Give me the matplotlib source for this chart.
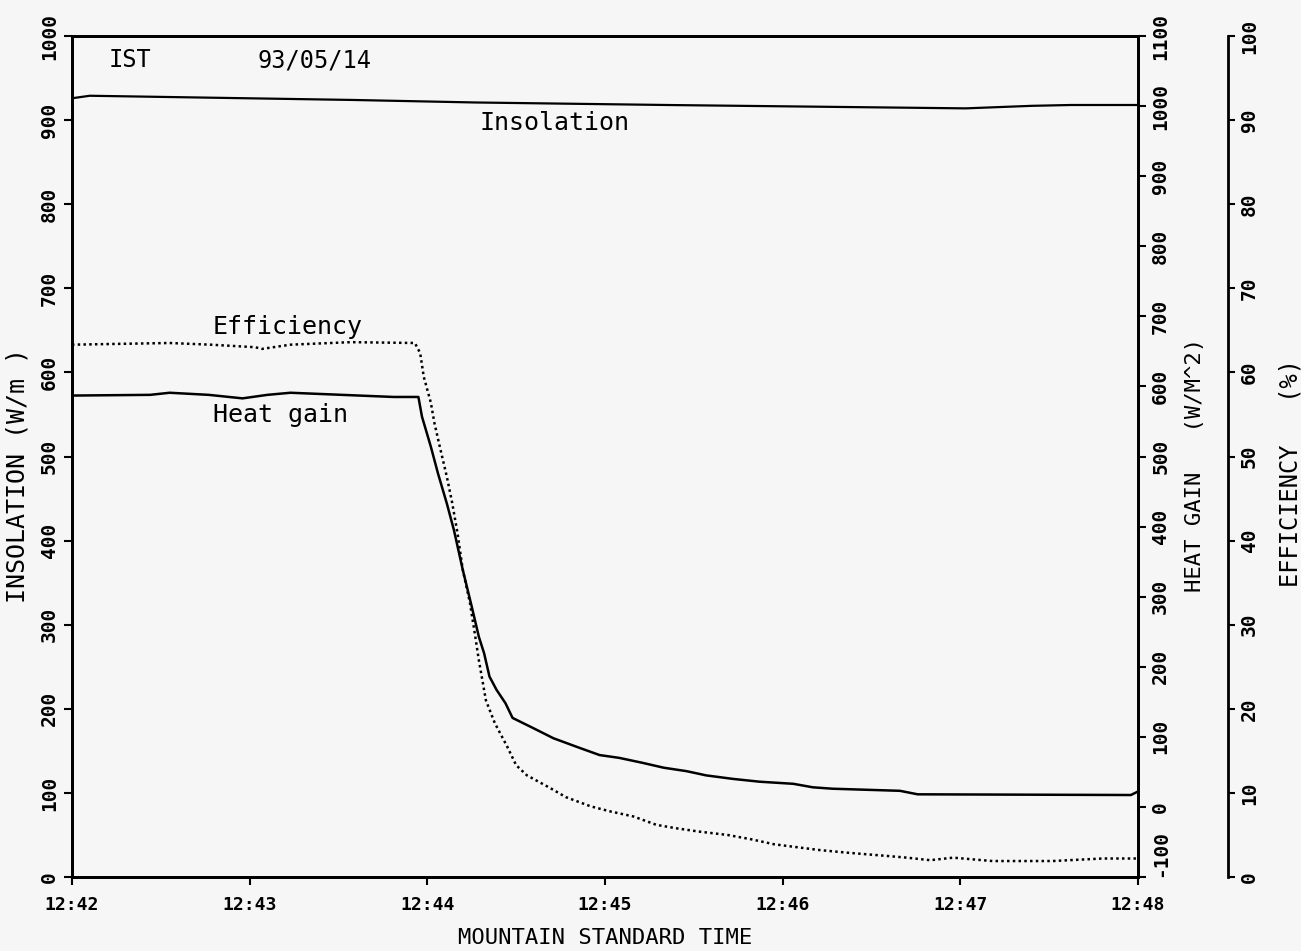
import matplotlib.pyplot as plt

plt.rcParams['font.family'] = ['DejaVu Sans Mono']

# time in minutes after 12:42
ins_t = [0, 0.10, 1.58, 2.27, 3.35, 5.03, 5.40, 5.62, 6.0]
insolation = [926, 929, 924, 921, 918, 914, 917, 918, 918]

heat_t = [0, 0.44, 0.55, 0.77, 0.96, 1.10, 1.23, 1.81, 1.95, 1.97, 2.02, 2.06,
          2.11, 2.15, 2.20, 2.25, 2.29, 2.32, 2.35, 2.39, 2.44, 2.48, 2.60,
          2.71, 2.86, 2.97, 3.08, 3.21, 3.33, 3.46, 3.57, 3.72, 3.87, 4.06,
          4.17, 4.28, 4.66, 4.76, 5.96, 6.0]
heat_gain = [587, 588, 591, 588, 583, 588, 591, 585, 585, 557, 514, 476,
             433, 395, 338, 286, 243, 219, 186, 167, 148, 127, 112,
             98, 84, 74, 70, 63, 56, 51, 45, 40, 36, 33,
             28, 26, 23, 18, 17, 22]

eff_t = [0, 0.55, 0.78, 1.03, 1.07, 1.23, 1.57, 1.93, 1.96, 1.98, 2.02, 2.04,
         2.07, 2.11, 2.14, 2.17, 2.20, 2.24, 2.27, 2.29, 2.31, 2.33, 2.38,
         2.45, 2.50, 2.56, 2.69, 2.78, 2.92, 3.03, 3.16, 3.29, 3.40, 3.53,
         3.69, 3.82, 3.95, 4.06, 4.21, 4.36, 4.59, 4.70, 4.83, 4.96, 5.18,
         5.52, 5.80, 6.0]
efficiency = [63.3, 63.5, 63.3, 63.0, 62.8, 63.3, 63.6, 63.5, 62.3, 59.5, 56.4, 54.0,
              51.2, 47.6, 44.5, 40.9, 36.5, 32.6, 28.6, 25.8, 23.4, 21.0, 18.3,
              15.5, 13.3, 12.1, 10.6, 9.5, 8.4, 7.8, 7.2, 6.2, 5.8, 5.4,
              5.0, 4.5, 3.9, 3.6, 3.2, 2.9, 2.5, 2.3, 2.0, 2.3, 1.9,
              1.9, 2.2, 2.2]

time_labels = ['12:42', '12:43', '12:44', '12:45', '12:46', '12:47', '12:48']
ins_ticks = list(range(0, 1001, 100))
heat_ticks = list(range(-100, 1101, 100))
eff_ticks = list(range(0, 101, 10))

bg = '#f6f6f6'
fig = plt.figure(figsize=(13.01, 9.51), dpi=100, facecolor=bg)
ax = fig.add_axes([0.0553, 0.0778, 0.8194, 0.8843], facecolor=bg)

ax.plot(ins_t, insolation, color='black', lw=1.6)
ax.set_xlim(0, 6)
ax.set_ylim(0, 1000)
ax.set_xticks(range(7))
ax.set_xticklabels(time_labels, fontsize=13, fontweight='bold')
ax.set_yticks(ins_ticks)
ax.set_yticklabels([str(v) for v in ins_ticks], fontsize=14, fontweight='bold',
                   rotation=90, va='center')
ax.tick_params(axis='both', direction='out', length=6, width=1.5, color='black')
ax.tick_params(axis='x', pad=8)
ax.set_ylabel('INSOLATION (W/m )', fontsize=18, va='center')
ax.yaxis.set_label_coords(-0.051, 0.478)
ax.set_xlabel('MOUNTAIN STANDARD TIME', fontsize=16, va='center')
ax.xaxis.set_label_coords(0.5, -0.0725)

ax2 = ax.twinx()
ax2.plot(heat_t, heat_gain, color='black', lw=1.8)
ax2.set_ylim(-100, 1100)
ax2.set_yticks(heat_ticks)
ax2.set_yticklabels([str(v) for v in heat_ticks], fontsize=14, fontweight='bold',
                    rotation=90, va='center')
ax2.get_yticklabels()[0].set_va('bottom')
ax2.tick_params(axis='y', direction='out', length=6, width=1.5)
ax2.set_ylabel('HEAT GAIN   (W/M^2)', fontsize=16, va='center')
ax2.yaxis.set_label_coords(1.0535, 0.49)

ax3 = ax.twinx()
ax3.plot(eff_t, efficiency, color='black', lw=1.8, linestyle=(0, (1, 1.3)))
ax3.set_ylim(0, 100)
ax3.spines['right'].set_position(('axes', 1.0844))
ax3.set_yticks(eff_ticks)
ax3.set_yticklabels([str(v) for v in eff_ticks], fontsize=14, fontweight='bold',
                    rotation=90, va='center')
ax3.tick_params(axis='y', direction='out', length=5, width=1.5)
ax3.set_ylabel('EFFICIENCY   (%)', fontsize=17, va='center')
ax3.yaxis.set_label_coords(1.1426, 0.48)

for a in (ax, ax2, ax3):
    for s in a.spines.values():
        s.set_linewidth(2)
ax3.spines['top'].set_visible(False)
ax3.spines['left'].set_visible(False)
ax3.spines['bottom'].set_visible(False)

ax.text(0.034, 0.9715, 'IST', transform=ax.transAxes, fontsize=17, va='center')
ax.text(0.1745, 0.9715, '93/05/14', transform=ax.transAxes, fontsize=17, va='center')
ax.text(0.3827, 0.8966, 'Insolation', transform=ax.transAxes, fontsize=18, va='center')
ax.text(0.1323, 0.654, 'Efficiency', transform=ax.transAxes, fontsize=18, va='center')
ax.text(0.1323, 0.549, 'Heat gain', transform=ax.transAxes, fontsize=18, va='center')

fig.savefig('out.png', dpi=100, facecolor=bg)
